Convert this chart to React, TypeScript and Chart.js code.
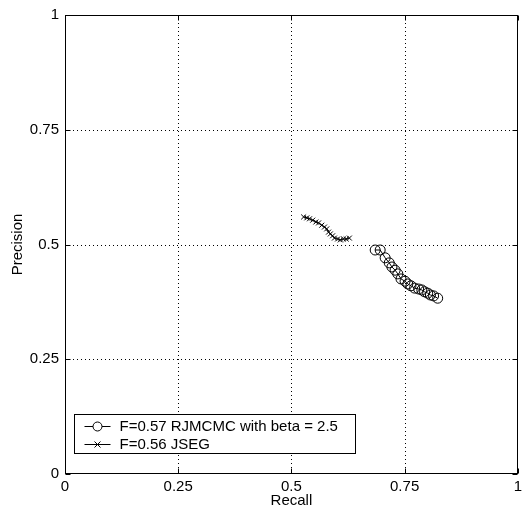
import React, { useEffect, useRef } from "react";
import { Chart, registerables } from "chart.js";

Chart.register(...registerables);

const rjRecall = [0.685, 0.696, 0.707, 0.716, 0.722, 0.729, 0.735, 0.742, 0.751, 0.757, 0.764, 0.772, 0.781, 0.788, 0.794, 0.801, 0.807, 0.814, 0.823];
const rjPrecision = [0.488, 0.488, 0.471, 0.460, 0.451, 0.444, 0.436, 0.425, 0.420, 0.414, 0.410, 0.405, 0.403, 0.401, 0.397, 0.394, 0.390, 0.388, 0.383];

const jsRecall = [0.527, 0.534, 0.540, 0.547, 0.554, 0.560, 0.567, 0.573, 0.578, 0.582, 0.586, 0.591, 0.595, 0.602, 0.608, 0.615, 0.621, 0.628];
const jsPrecision = [0.560, 0.558, 0.556, 0.553, 0.549, 0.547, 0.542, 0.538, 0.534, 0.527, 0.523, 0.519, 0.514, 0.512, 0.510, 0.512, 0.512, 0.514];

const seriesLabels = ["F=0.57 RJMCMC with beta = 2.5", "F=0.56 JSEG"];
const tickValues = [0, 0.25, 0.5, 0.75, 1];
const tickLabels = ["0", "0.25", "0.5", "0.75", "1"];
const xTitle = "Recall";
const yTitle = "Precision";

const FONT = "'Liberation Sans', Arial, Helvetica, sans-serif";

const toPoints = (xs: number[], ys: number[]) => xs.map((x, i) => ({ x, y: ys[i] }));

const framePlugin = {
  id: "frame",
  beforeDatasetsDraw(chart: any) {
    const { ctx, chartArea: a, scales } = chart;
    ctx.save();
    ctx.strokeStyle = "#000";
    ctx.lineWidth = 1;
    ctx.setLineDash([1, 3]);
    tickValues.forEach((v) => {
      if (v === 0 || v === 1) return;
      const px = Math.round(scales.x.getPixelForValue(v)) + 0.5;
      ctx.beginPath();
      ctx.moveTo(px, a.top);
      ctx.lineTo(px, a.bottom);
      ctx.stroke();
      const py = Math.round(scales.y.getPixelForValue(v)) + 0.5;
      ctx.beginPath();
      ctx.moveTo(a.left, py);
      ctx.lineTo(a.right, py);
      ctx.stroke();
    });
    ctx.restore();
  },
  afterDatasetsDraw(chart: any) {
    const { ctx, chartArea: a, scales } = chart;
    ctx.save();
    ctx.strokeStyle = "#000";
    ctx.lineWidth = 1;
    ctx.setLineDash([]);
    const L = Math.round(a.left) + 0.5;
    const R = Math.round(a.right) - 0.5;
    const T = Math.round(a.top) + 0.5;
    const B = Math.round(a.bottom) - 0.5;
    ctx.strokeRect(L, T, R - L, B - T);
    const tl = 5;
    tickValues.forEach((v) => {
      const px = Math.round(scales.x.getPixelForValue(v)) + 0.5;
      ctx.beginPath();
      ctx.moveTo(px, B);
      ctx.lineTo(px, B - tl);
      ctx.moveTo(px, T);
      ctx.lineTo(px, T + tl);
      ctx.stroke();
      const py = Math.round(scales.y.getPixelForValue(v)) + 0.5;
      ctx.beginPath();
      ctx.moveTo(L, py);
      ctx.lineTo(L + tl, py);
      ctx.moveTo(R, py);
      ctx.lineTo(R - tl, py);
      ctx.stroke();
    });

    // legend box
    const bx = L + 9;
    const by = B - 59;
    const bw = 281;
    const bh = 39;
    ctx.fillStyle = "#fff";
    ctx.fillRect(bx, by, bw, bh);
    ctx.strokeRect(bx, by, bw, bh);
    ctx.font = `15px ${FONT}`;
    ctx.fillStyle = "#000";
    ctx.textBaseline = "middle";
    ctx.textAlign = "left";
    const rows = [by + 11, by + 29];
    rows.forEach((ry, i) => {
      const y = Math.round(ry) + 0.5;
      ctx.beginPath();
      ctx.moveTo(bx + 10, y);
      ctx.lineTo(bx + 36, y);
      ctx.stroke();
      const mx = bx + 23;
      if (i === 0) {
        ctx.beginPath();
        ctx.arc(mx, y, 4.5, 0, Math.PI * 2);
        ctx.fillStyle = "#fff";
        ctx.fill();
        ctx.stroke();
        ctx.fillStyle = "#000";
      } else {
        const r = 3;
        ctx.beginPath();
        ctx.moveTo(mx - r, y - r);
        ctx.lineTo(mx + r, y + r);
        ctx.moveTo(mx - r, y + r);
        ctx.lineTo(mx + r, y - r);
        ctx.stroke();
      }
      ctx.fillText(seriesLabels[i], bx + 45, ry + 1);
    });
    ctx.restore();
  },
};

export default function App() {
  const ref = useRef<HTMLCanvasElement | null>(null);
  useEffect(() => {
    document.body.style.margin = "0";
    if (!ref.current) return;
    const tickCb = (v: any) => {
      const i = tickValues.indexOf(Number(v));
      return i >= 0 ? tickLabels[i] : "";
    };
    const setTicks = (s: any) => {
      s.ticks = tickValues.map((v) => ({ value: v }));
    };
    const chart = new Chart(ref.current, {
      type: "scatter",
      data: {
        datasets: [
          {
            label: seriesLabels[0],
            data: toPoints(rjRecall, rjPrecision),
            showLine: true,
            borderColor: "#000",
            borderWidth: 1,
            pointStyle: "circle",
            pointRadius: 5,
            pointBorderWidth: 1,
            pointBorderColor: "#000",
            pointBackgroundColor: "rgba(0,0,0,0)",
          },
          {
            label: seriesLabels[1],
            data: toPoints(jsRecall, jsPrecision),
            showLine: true,
            borderColor: "#000",
            borderWidth: 1,
            pointStyle: "crossRot",
            pointRadius: 3.5,
            pointBorderWidth: 1,
            pointBorderColor: "#000",
            pointBackgroundColor: "#000",
          },
        ],
      },
      options: {
        animation: false,
        responsive: true,
        maintainAspectRatio: false,
        layout: { padding: { top: 15, right: 4, left: 0, bottom: 0 } },
        plugins: { legend: { display: false }, tooltip: { enabled: false } },
        scales: {
          x: {
            type: "linear",
            min: 0,
            max: 1,
            afterBuildTicks: setTicks,
            afterFit: (s: any) => {
              s.height = 36;
            },
            grid: { display: false, drawTicks: false },
            border: { display: false },
            ticks: {
              color: "#000",
              padding: 4,
              maxRotation: 0,
              autoSkip: false,
              font: { family: FONT, size: 15 },
              callback: tickCb,
            },
            title: {
              display: true,
              text: xTitle,
              color: "#000",
              font: { family: FONT, size: 15 },
              padding: { top: 0, bottom: 0 },
            },
          },
          y: {
            type: "linear",
            min: 0,
            max: 1,
            afterBuildTicks: setTicks,
            afterFit: (s: any) => {
              s.width = 65;
            },
            grid: { display: false, drawTicks: false },
            border: { display: false },
            ticks: {
              color: "#000",
              padding: 6,
              autoSkip: false,
              font: { family: FONT, size: 15 },
              callback: tickCb,
            },
            title: {
              display: true,
              text: yTitle,
              color: "#000",
              font: { family: FONT, size: 15 },
              padding: { top: 9, bottom: 0 },
            },
          },
        },
      },
      plugins: [framePlugin],
    });
    return () => chart.destroy();
  }, []);
  return (
    <div style={{ position: "relative", width: 526, height: 510 }}>
      <canvas ref={ref} />
    </div>
  );
}
